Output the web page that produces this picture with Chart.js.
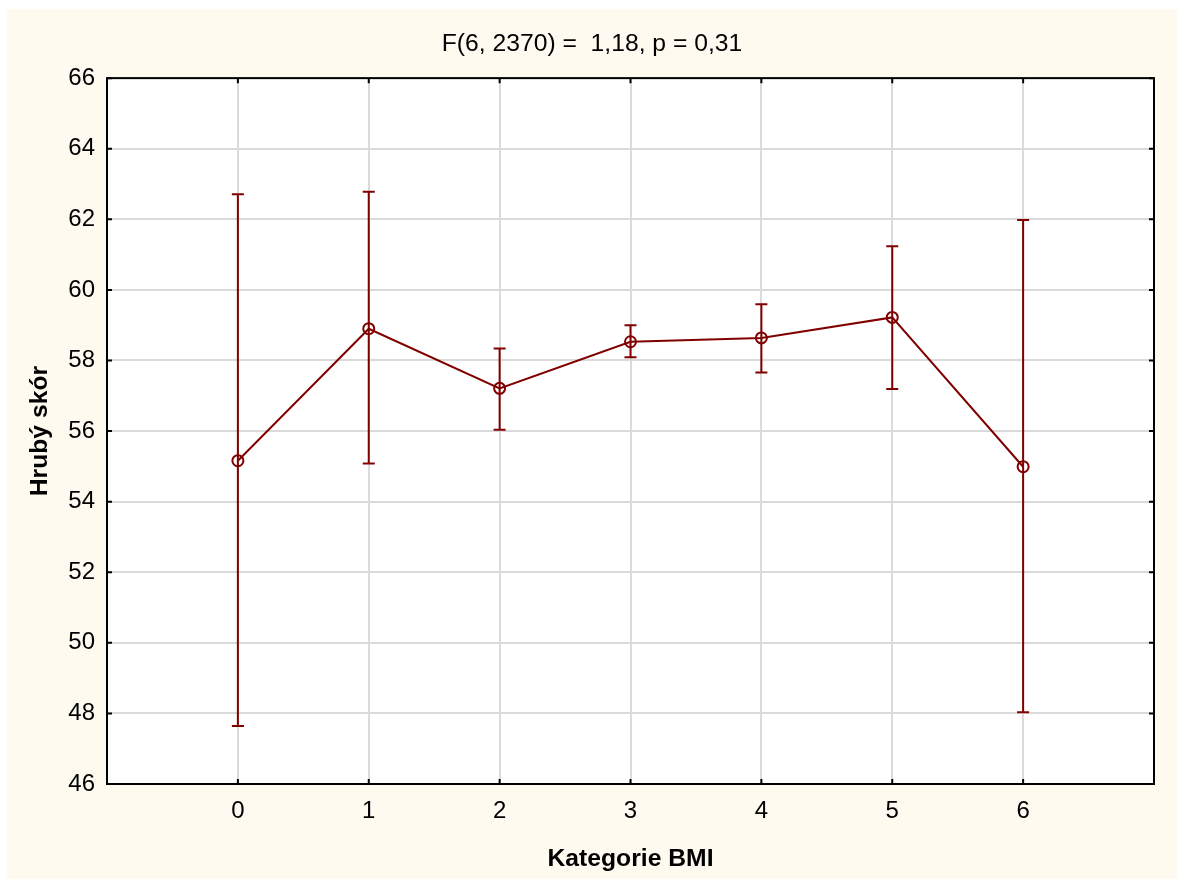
<!DOCTYPE html>
<html>
<head>
<meta charset="utf-8">
<script src="https://cdn.jsdelivr.net/npm/chart.js@4.4.1/dist/chart.umd.min.js"></script>
<style>
  html, body { margin: 0; padding: 0; background: #ffffff; }
  #frame { position: absolute; left: 7px; top: 9px; width: 1170px; height: 870px; background: #FEFAEF; }
  #chart { display: block; }
</style>
</head>
<body>
<div id="frame"><canvas id="chart" width="1170" height="870"></canvas></div>
<script>
// BMI categories with group means and confidence bounds
const categories = [0, 1, 2, 3, 4, 5, 6];
const means = [55.16, 58.90, 57.21, 58.53, 58.64, 59.22, 54.99];
const upper = [62.71, 62.78, 58.34, 59.00, 59.59, 61.24, 61.98];
const lower = [47.64, 55.08, 56.04, 58.09, 57.66, 57.19, 48.03];
const yTicks = [46, 48, 50, 52, 54, 56, 58, 60, 62, 64, 66];

const titleText = 'F(6, 2370) =  1,18, p = 0,31';
const dark = '#800000';
const fontFamily = '"Liberation Sans", Arial, sans-serif';

// vertical whiskers with caps
const errorBars = {
  id: 'errorBars',
  afterDatasetsDraw(chart) {
    const ctx = chart.ctx;
    const xs = chart.scales.x, ys = chart.scales.y;
    ctx.save();
    ctx.strokeStyle = dark;
    ctx.lineWidth = 2;
    for (let i = 0; i < categories.length; i++) {
      const x = xs.getPixelForValue(categories[i]);
      const yt = ys.getPixelForValue(upper[i]);
      const yb = ys.getPixelForValue(lower[i]);
      ctx.beginPath();
      ctx.moveTo(x, yt); ctx.lineTo(x, yb);
      ctx.moveTo(x - 6, yt); ctx.lineTo(x + 6, yt);
      ctx.moveTo(x - 6, yb); ctx.lineTo(x + 6, yb);
      ctx.stroke();
    }
    ctx.restore();
  }
};

// small inward tick marks on all four sides of the frame
const innerTicks = {
  id: 'innerTicks',
  afterDraw(chart) {
    const ctx = chart.ctx;
    const a = chart.chartArea;
    const xs = chart.scales.x, ys = chart.scales.y;
    const len = 5;
    ctx.save();
    ctx.strokeStyle = '#000';
    ctx.lineWidth = 2;
    ctx.beginPath();
    categories.forEach(v => {
      const x = xs.getPixelForValue(v);
      ctx.moveTo(x, a.bottom); ctx.lineTo(x, a.bottom - len);
      ctx.moveTo(x, a.top); ctx.lineTo(x, a.top + len);
    });
    yTicks.forEach(v => {
      const y = ys.getPixelForValue(v);
      ctx.moveTo(a.left, y); ctx.lineTo(a.left + len, y);
      ctx.moveTo(a.right, y); ctx.lineTo(a.right - len, y);
    });
    ctx.stroke();
    ctx.strokeRect(a.left, a.top, a.right - a.left, a.bottom - a.top);
    ctx.restore();
  }
};

const plotBg = {
  id: 'plotBg',
  beforeDraw(chart) {
    const a = chart.chartArea;
    chart.ctx.save();
    chart.ctx.fillStyle = '#ffffff';
    chart.ctx.fillRect(a.left, a.top, a.right - a.left, a.bottom - a.top);
    chart.ctx.restore();
  }
};

Chart.defaults.font.family = fontFamily;
Chart.defaults.color = '#000';

new Chart(document.getElementById('chart'), {
  type: 'line',
  data: {
    datasets: [{
      data: categories.map((c, i) => ({ x: c, y: means[i] })),
      borderColor: dark,
      borderWidth: 2,
      pointStyle: 'circle',
      pointRadius: 5.5,
      pointBorderWidth: 2,
      pointBorderColor: dark,
      pointBackgroundColor: 'rgba(0,0,0,0)',
      tension: 0
    }]
  },
  options: {
    responsive: false,
    animation: false,
    layout: { padding: 0 },
    plugins: {
      legend: { display: false },
      tooltip: { enabled: false },
      title: {
        display: true,
        text: titleText,
        color: '#000',
        font: { size: 24.7, weight: 'normal' },
        padding: { top: 20, bottom: 19.5 }
      }
    },
    scales: {
      x: {
        type: 'linear',
        min: -1,
        max: 7,
        afterBuildTicks: s => { s.ticks = categories.map(v => ({ value: v })); },
        afterFit: s => { s.height = 95; },
        ticks: { font: { size: 24 }, padding: 13, callback: v => String(v) },
        grid: { color: '#dadada', lineWidth: 2, drawTicks: false },
        border: { display: false },
        title: {
          display: true,
          text: 'Kategorie BMI',
          font: { size: 24.7, weight: 'bold' },
          padding: { top: 0, bottom: 5 }
        }
      },
      y: {
        min: 46,
        max: 66,
        afterBuildTicks: s => { s.ticks = yTicks.map(v => ({ value: v })); },
        afterFit: s => { s.width = 100; },
        ticks: { font: { size: 24 }, padding: 12 },
        grid: { color: '#dadada', lineWidth: 2, drawTicks: false },
        border: { display: false },
        title: {
          display: true,
          text: 'Hrubý skór',
          font: { size: 24.7, weight: 'bold' },
          padding: { top: 18.5, bottom: 0 }
        }
      },
      // empty right-hand axis that only reserves the margin beside the frame
      yRight: {
        position: 'right',
        min: 46,
        max: 66,
        afterFit: s => { s.width = 23; },
        ticks: { display: false },
        grid: { display: false, drawTicks: false },
        border: { display: false }
      }
    }
  },
  plugins: [plotBg, errorBars, innerTicks]
});
</script>
</body>
</html>
